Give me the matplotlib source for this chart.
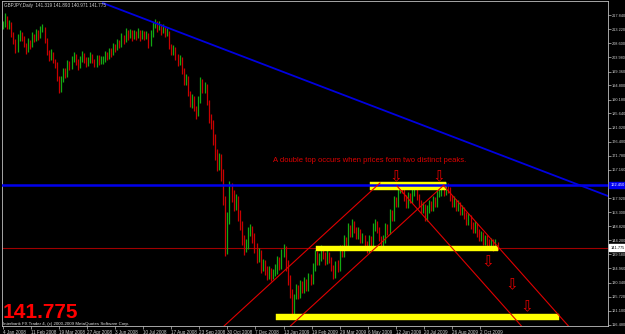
import matplotlib
matplotlib.use("Agg")
import matplotlib.pyplot as plt
import matplotlib.transforms as mtransforms
import numpy as np

# ---------------- data ----------------
# GBPJPY Daily, Jan 2008 - Oct 2009, one sample per 2 daily bars
closes = [
    214.6, 216.9, 214.2, 214.9, 211.8, 209.5, 206.4, 210.2, 211.6, 210.4,
    208.4, 206.4, 208.9, 207.9, 211.0, 210.0, 212.0, 211.0, 213.0, 213.6,
    209.7, 205.8, 204.0, 205.4, 203.0, 201.8, 197.3, 193.4, 196.6,
    199.3, 198.4, 201.9, 201.0, 203.2, 204.5, 202.5, 201.2, 203.2, 204.8,
    203.4, 201.9, 202.9, 204.5, 203.2, 201.9, 203.8, 202.5, 203.2,
    203.2, 205.0, 204.1, 206.0, 205.1, 207.6, 206.8, 208.9, 208.0, 210.6,
    209.5, 212.3, 210.8, 212.0, 210.6, 211.9, 210.9, 212.4, 210.6, 211.8,
    210.8, 211.5, 208.4, 211.6, 214.3, 215.6, 213.4, 214.6, 212.6, 213.6,
    211.6, 212.2, 207.7, 205.8, 206.8, 204.4, 202.5, 203.4, 199.9, 196.0,
    197.2, 192.4, 188.8, 190.8, 187.5, 185.6, 190.1, 196.0, 193.4, 194.6,
    189.5, 184.3, 182.3,
    177.1, 172.2, 168.9, 170.6, 165.7, 157.5, 141.2, 151.0, 161.4, 159.2,
    155.9, 157.4, 152.6, 149.4, 144.5, 141.2, 142.8, 146.1, 147.7, 145.1,
    141.9, 138.6, 139.8, 135.4, 136.3, 134.7, 133.1, 134.1, 132.8, 133.4,
    134.7, 137.3, 136.0, 139.6, 141.2, 136.3, 131.5, 127.5, 120.0, 124.9,
    128.2, 126.2, 129.8, 128.2, 130.8, 128.8, 132.1, 131.0, 135.3, 139.6,
    137.3, 138.6, 141.2, 139.3, 137.3, 139.6, 138.0, 135.4, 132.8, 136.0,
    135.2, 141.2, 140.0, 144.5, 143.3, 148.4, 146.6, 149.7, 147.7, 145.8,
    147.1, 144.5, 145.1, 143.2, 141.2, 144.5, 143.6, 148.4, 149.7, 147.7,
    145.1, 142.5, 144.5, 148.4, 147.3, 153.0, 151.8, 157.5, 156.2, 160.8,
    162.1, 160.8, 158.2, 155.9, 158.8, 157.5, 160.1, 161.4, 158.8, 156.2,
    154.3, 155.3, 151.7, 154.3, 156.2, 154.9, 157.5, 156.4, 159.6, 160.8,
    162.1, 160.1, 162.1, 160.8, 158.2, 156.2, 157.5, 154.9, 155.9, 153.6,
    154.3, 152.3, 150.4, 151.7, 149.1, 147.7, 149.1, 146.5, 145.1, 145.8,
    143.8, 144.5, 143.2, 142.5, 143.5, 141.9, 143.2, 141.775,
]
highs = [
    216.0, 218.4, 217.5, 216.3, 215.5, 212.4, 210.0, 211.6, 212.9, 212.4,
    211.0, 208.6, 210.2, 209.8, 212.3, 211.7, 213.2, 212.8, 214.1, 215.0,
    213.9, 210.2, 206.3, 206.8, 205.9, 203.6, 202.4, 197.8, 198.0,
    200.5, 200.6, 203.1, 202.9, 204.4, 205.8, 205.2, 203.3, 204.3, 206.0,
    205.4, 204.0, 204.1, 205.7, 205.0, 203.6, 204.9, 204.6, 204.5,
    204.5, 206.2, 205.9, 207.2, 206.9, 208.8, 208.5, 210.1, 209.8, 211.8,
    211.4, 213.5, 213.0, 213.2, 212.8, 213.0, 212.7, 213.6, 213.0, 212.9,
    212.5, 212.7, 211.9, 212.9, 215.6, 216.6, 215.9, 215.8, 214.8, 214.8,
    214.0, 213.5, 212.6, 208.4, 208.0, 207.4, 205.0, 204.6, 204.0, 200.5,
    198.6, 197.8, 193.0, 192.0, 191.4, 188.2, 191.5, 197.6, 196.8, 195.8,
    195.2, 190.0, 185.6,
    183.6, 178.9, 174.0, 172.6, 172.4, 167.6, 158.5, 153.4, 163.6, 163.0,
    160.6, 159.4, 158.6, 154.0, 150.6, 145.9, 144.6, 148.4, 149.6, 149.0,
    146.4, 143.2, 141.6, 140.9, 137.9, 137.6, 135.9, 135.6, 135.2, 134.9,
    136.4, 139.0, 138.6, 141.4, 142.9, 142.4, 137.6, 132.8, 128.3, 126.6,
    130.0, 129.5, 131.2, 130.9, 132.2, 131.5, 133.4, 133.0, 136.8, 140.9,
    140.6, 140.0, 142.5, 142.2, 140.4, 140.9, 140.5, 138.8, 136.2, 137.4,
    137.6, 142.5, 142.6, 145.8, 145.4, 149.7, 149.3, 151.0, 150.6, 148.6,
    148.4, 147.8, 146.6, 145.9, 144.0, 145.8, 145.5, 149.7, 151.0, 150.5,
    148.6, 145.6, 145.9, 149.7, 149.6, 154.3, 154.0, 158.8, 158.4, 162.1,
    163.2, 162.6, 161.5, 158.9, 160.1, 159.6, 161.4, 162.6, 162.0, 159.4,
    157.2, 156.6, 155.9, 155.6, 157.5, 157.1, 158.8, 158.3, 160.9, 162.1,
    163.2, 162.9, 163.3, 162.9, 161.6, 158.9, 158.8, 157.8, 157.2, 156.6,
    155.6, 155.0, 153.3, 153.0, 152.3, 150.1, 150.4, 149.9, 147.8, 147.1,
    146.9, 145.8, 145.8, 144.6, 144.8, 144.6, 144.5, 143.7,
]
lows = [
    213.4, 214.0, 213.3, 213.2, 210.7, 208.3, 205.3, 205.8, 209.4, 209.3,
    207.3, 205.2, 205.6, 206.8, 207.4, 208.9, 209.4, 209.8, 210.4, 212.2,
    208.6, 204.6, 202.9, 203.2, 202.0, 200.5, 196.2, 192.2, 192.8,
    195.8, 197.3, 197.6, 200.0, 200.3, 202.6, 201.5, 200.0, 200.6, 202.4,
    202.2, 200.8, 201.3, 202.2, 202.0, 200.8, 201.0, 201.4, 201.8,
    201.8, 202.6, 203.0, 203.5, 204.0, 204.6, 205.7, 206.3, 206.9, 207.4,
    208.4, 209.0, 209.7, 210.2, 209.5, 210.0, 209.8, 210.2, 209.5, 209.9,
    209.6, 209.9, 207.2, 207.6, 210.8, 213.6, 212.2, 212.8, 211.4, 212.0,
    210.5, 210.9, 206.6, 204.6, 204.9, 203.2, 201.3, 201.6, 198.7, 194.8,
    195.0, 191.2, 187.6, 187.5, 186.3, 183.8, 184.8, 189.0, 192.2, 192.4,
    188.3, 182.5, 180.6,
    175.3, 170.4, 166.8, 167.3, 163.6, 155.6, 138.9, 139.8, 149.4, 156.8,
    153.6, 154.0, 150.6, 147.4, 142.6, 139.3, 140.2, 141.4, 145.5, 143.2,
    140.0, 136.6, 137.0, 133.6, 134.0, 132.8, 131.2, 131.6, 130.9, 131.4,
    132.5, 133.0, 134.4, 134.7, 138.8, 134.0, 129.6, 125.2, 118.7, 118.9,
    125.5, 124.9, 125.2, 126.9, 127.0, 127.5, 127.6, 129.7, 129.8, 134.0,
    136.0, 136.2, 137.3, 138.0, 136.0, 136.3, 136.7, 134.2, 131.5, 131.7,
    133.9, 134.0, 138.7, 138.8, 142.0, 142.0, 145.3, 145.4, 146.4, 144.5,
    144.6, 143.2, 143.3, 141.9, 139.9, 140.0, 142.3, 142.4, 147.1, 146.4,
    143.8, 141.2, 141.3, 143.2, 146.0, 146.1, 150.5, 150.6, 154.9, 155.0,
    159.6, 159.5, 156.9, 154.6, 154.7, 156.2, 156.3, 158.8, 157.5, 154.9,
    153.0, 153.1, 150.4, 150.5, 153.0, 153.6, 153.7, 155.1, 155.2, 158.3,
    158.6, 158.8, 158.9, 159.5, 156.9, 154.9, 154.9, 153.6, 153.7, 152.3,
    152.3, 151.0, 149.1, 149.1, 147.8, 146.4, 146.5, 145.2, 143.8, 143.8,
    142.5, 142.5, 141.9, 141.2, 141.2, 140.6, 140.9, 140.971,
]
bar_step = 2            # each sample = 2 daily bars

date_labels = ["4 Jan 2008", "11 Feb 2008", "19 Mar 2008", "27 Apr 2008",
               "3 Jun 2008", "10 Jul 2008", "17 Aug 2008", "23 Sep 2008",
               "30 Oct 2008", "7 Dec 2008", "13 Jan 2009", "19 Feb 2009",
               "29 Mar 2009", "6 May 2009", "12 Jun 2009", "20 Jul 2009",
               "26 Aug 2009", "2 Oct 2009"]
bars_per_label = 27

price_labels = ["217.840", "213.220", "208.600", "203.980", "199.360",
                "194.800", "190.180", "185.640", "181.020", "176.400",
                "171.780", "167.160", "157.920", "153.300",
                "148.820", "144.200", "139.580", "134.960", "130.340",
                "125.720", "121.100", "116.480"]

current_price = 141.775
resistance = 162.25
resistance_label = "162.450"
header = "GBPJPY,Daily  141.319 141.893 140.971 141.775"
ohlc_note = "A double top occurs when prices form two distinct peaks."
copyright_txt = "Interbank FX Trader 4, (c) 2000-2009 MetaQuotes Software Corp."

# ---------------- figure ----------------
W, H = 625, 334
fig = plt.figure(figsize=(W / 100, H / 100), dpi=100, facecolor="black")
ax = fig.add_axes([2 / W, 8 / H, 606 / W, 325 / H])
ax.set_facecolor("black")

ax.set_xlim(-0.96, 582.3)
ax.set_ylim(116.14, 222.42)

GRAY = "#c0c0c0"
GREEN = "#12a812"
RED = "#c80000"
FONT = ["Liberation Sans", "DejaVu Sans"]

# bars (open = previous close), drawn low-high
c = np.array(closes)
o = np.concatenate([[c[0]], c[:-1]])
hi = np.maximum(np.array(highs), np.maximum(o, c))
lo = np.minimum(np.array(lows), np.minimum(o, c))
x = np.arange(len(c)) * bar_step
cols = [GREEN if cc >= oo else RED for oo, cc in zip(o, c)]
ax.vlines(x, lo, hi, colors=cols, lw=0.9, zorder=2)

# horizontal lines
ax.axhline(current_price, color="#a00000", lw=0.8, zorder=1)

# yellow rectangles
def rect(x0, x1, y0, y1):
    ax.add_patch(plt.Rectangle((x0, y0), x1 - x0, y1 - y0, facecolor="#ffff00",
                               edgecolor="#ffff00", lw=0.3, zorder=3))
rect(353.2, 426.4, 160.6, 163.2)
rect(301.3, 476.4, 140.7, 142.3)
rect(262.8, 535.1, 118.1, 120.1)

ax.axhline(resistance, color="#0000ee", lw=1.8, zorder=4)

# blue down trend line
ax.plot([96.2, 582.3], [221.76, 158.65], color="#0000e0", lw=1.3, zorder=4)

# red channel lines
for (x0, y0, x1, y1) in [(208.6, 114.84, 362.8, 162.90),
                         (272.4, 114.84, 424.4, 162.25),
                         (379.2, 161.92, 502.4, 114.84),
                         (424.4, 161.92, 547.6, 114.84)]:
    ax.plot([x0, x1], [y0, y1], color="#e00000", lw=0.8, zorder=4)

# axes styling
for s in ax.spines.values():
    s.set_color(GRAY)
    s.set_linewidth(0.6)
ax.yaxis.tick_right()
ax.set_yticks([float(v) for v in price_labels])
ax.set_yticklabels(price_labels)
ax.set_xticks([k * bars_per_label for k in range(len(date_labels))])
ax.set_xticklabels(date_labels)
for lab in ax.get_xticklabels():
    lab.set_ha("left")
for lab in ax.get_xticklabels() + ax.get_yticklabels():
    lab.set_family(FONT)
ax.tick_params(axis="x", colors=GRAY, labelcolor="#d0d0d0", labelsize=3.3,
               length=2, width=0.5, pad=1, direction="out")
ax.tick_params(axis="y", colors=GRAY, labelcolor="#d0d0d0", labelsize=2.8,
               length=1.8, width=0.5, pad=0.6, direction="out")

# axis value boxes
trans = mtransforms.blended_transform_factory(ax.transAxes, ax.transData)
ax.text(1.004, resistance, resistance_label, transform=trans, fontsize=2.8,
        color="white", va="center", ha="left", zorder=6, clip_on=False,
        family=FONT,
        bbox=dict(boxstyle="square,pad=0.3", fc="#0000ee", ec="#0000ee"))
ax.text(1.004, current_price, f"{current_price:.3f}", transform=trans,
        fontsize=2.8, color="black", va="center", ha="left", zorder=6,
        clip_on=False, family=FONT,
        bbox=dict(boxstyle="square,pad=0.3", fc="white", ec="white"))

# texts
fig.text(4 / W, 1 - 5 / H, header, fontsize=3.3, color="#d0d0d0",
         va="center", ha="left", family=FONT)
fig.text(370 / W, 1 - 160 / H, ohlc_note, fontsize=5.5, color="#e00000",
         va="center", ha="center", family=FONT)
fig.text(3 / W, 1 - 318.5 / H, f"{current_price:.3f}", fontsize=15,
         weight="bold", color="#ff0000", va="baseline", ha="left",
         family=FONT)
fig.text(3 / W, 1 - 323.5 / H, copyright_txt, fontsize=3.2, color="#e0e0e0",
         va="center", ha="left", family=FONT)

for (px, py) in [(396, 177), (439, 177), (488, 262), (512, 285), (527, 307)]:
    fig.text(px / W, 1 - py / H, "\u21e9", fontsize=11, color="#e00000",
             ha="center", va="center", family="DejaVu Sans")

fig.savefig("out.png", dpi=100, facecolor="black")
